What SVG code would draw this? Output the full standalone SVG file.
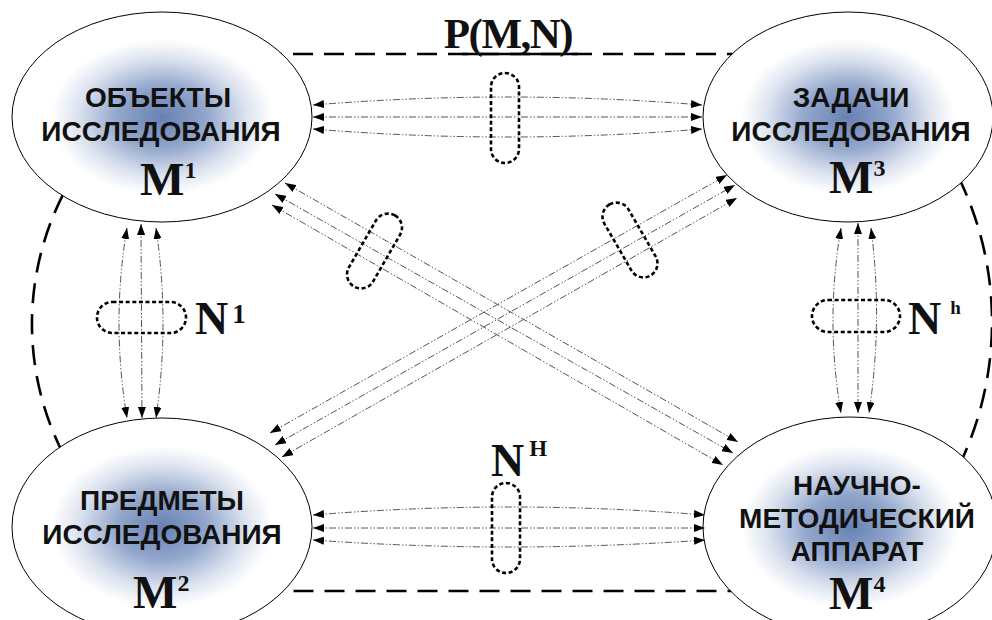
<svg xmlns="http://www.w3.org/2000/svg" width="992" height="620" viewBox="0 0 992 620">
  <defs>
    <radialGradient id="glow" cx="0.5" cy="0.5" r="0.5" fx="0.5" fy="0.5">
      <stop offset="0" stop-color="#6781b2"/>
      <stop offset="0.3" stop-color="#93a7cc"/>
      <stop offset="0.56" stop-color="#dce3ef"/>
      <stop offset="0.74" stop-color="#ffffff"/>
    </radialGradient>
    <marker id="ah" viewBox="0 0 11 8" refX="11" refY="4" markerWidth="11" markerHeight="8" markerUnits="userSpaceOnUse" orient="auto-start-reverse">
      <path d="M0,0 L11,4 L0,8 Z" fill="#000"/>
    </marker>
  </defs>
  <style>
    .frame { fill: none; stroke: #000; stroke-width: 2.6; stroke-dasharray: 20 11; }
    .node ellipse { fill: url(#glow); stroke: #000; stroke-width: 1; }
    .lbl { font-family: "Liberation Sans", Arial, sans-serif; font-weight: bold; font-size: 28px; text-anchor: middle; fill: #111; }
    .m { font-family: "Liberation Serif", "Times New Roman", serif; font-weight: bold; fill: #111; }
    .big { font-size: 47px; }
    .sup { font-size: 24px; }
    .link { fill: none; stroke: #555; stroke-width: 1; stroke-dasharray: 7 2 1.5 2 1.5 2; marker-start: url(#ah); marker-end: url(#ah); }
    .cap { fill: none; stroke: #000; stroke-width: 2.6; stroke-dasharray: 4 2.6; }
  </style>

  <!-- outer dashed boundary of the system P(M,N) -->
  <path class="frame" d="M200,54 H790 L923,120 A330,330 0 0 1 926,520 L790,591 H200 L110,520 A285,285 0 0 1 118,120 Z"/>
  <line x1="462" y1="54" x2="578" y2="54" stroke="#000" stroke-width="2.6"/>
  <text class="m" x="508" y="48" font-size="43" text-anchor="middle" letter-spacing="-1.5">P(M,N)</text>

  <!-- nodes -->
  <g id="m1" class="node">
    <ellipse cx="162" cy="117" rx="150" ry="105"/>
    <text class="lbl" x="158" y="107">ОБЪЕКТЫ</text>
    <text class="lbl" x="161" y="141">ИССЛЕДОВАНИЯ</text>
    <text class="m big" x="140" y="195">M<tspan class="sup" dy="-17">1</tspan></text>
  </g>
  <g id="m3" class="node">
    <ellipse cx="848" cy="117" rx="145" ry="105"/>
    <text class="lbl" x="851" y="107">ЗАДАЧИ</text>
    <text class="lbl" x="851" y="141">ИССЛЕДОВАНИЯ</text>
    <text class="m big" x="829" y="193">M<tspan class="sup" dy="-17">3</tspan></text>
  </g>
  <g id="m2" class="node">
    <ellipse cx="162" cy="527" rx="150" ry="109"/>
    <text class="lbl" x="162" y="510">ПРЕДМЕТЫ</text>
    <text class="lbl" x="162" y="544">ИССЛЕДОВАНИЯ</text>
    <text class="m big" x="133" y="608">M<tspan class="sup" dy="-17">2</tspan></text>
  </g>
  <g id="m4" class="node">
    <ellipse cx="850" cy="527" rx="147" ry="110"/>
    <text class="lbl" x="857" y="495">НАУЧНО-</text>
    <text class="lbl" x="857" y="528">МЕТОДИЧЕСКИЙ</text>
    <text class="lbl" x="857" y="561">АППАРАТ</text>
    <text class="m big" x="829" y="609">M<tspan class="sup" dy="-17">4</tspan></text>
  </g>

  <!-- connectors -->
  <g id="links">
    <!-- M1 - M3 -->
    <path class="link" d="M313,105 Q507,89 702,105"/>
    <path class="link" d="M313,117 L702,117"/>
    <path class="link" d="M313,129 Q507,145 702,129"/>
    <!-- M2 - M4 -->
    <path class="link" d="M313,515 Q509,499 705,515"/>
    <path class="link" d="M313,528 L705,528"/>
    <path class="link" d="M313,540 Q509,554 705,540"/>
    <!-- M1 - M2 -->
    <path class="link" d="M127,228 Q111,322 127,418"/>
    <path class="link" d="M141,224 L142,418"/>
    <path class="link" d="M156,228 Q170,322 156,418"/>
    <!-- M3 - M4 -->
    <path class="link" d="M841,228 Q825,320 841,413"/>
    <path class="link" d="M858,223 L858,413"/>
    <path class="link" d="M871,228 Q883,320 869,413"/>
    <!-- M1 - M4 -->
    <path class="link" d="M285,183 L738,442"/>
    <path class="link" d="M275,194 L733,453"/>
    <path class="link" d="M272,205 L723,465"/>
    <!-- M2 - M3 -->
    <path class="link" d="M270,433 L727,175"/>
    <path class="link" d="M275,445 L735,185"/>
    <path class="link" d="M282,457 L737,198"/>
  </g>

  <!-- relation groups -->
  <g id="relations">
    <rect class="cap" x="491" y="73" width="28" height="90" rx="14"/>
    <rect class="cap" x="492" y="483" width="28" height="90" rx="14"/>
    <rect class="cap" x="97" y="302" width="89" height="31" rx="15.5"/>
    <rect class="cap" x="812" y="300" width="88" height="32" rx="16"/>
    <rect class="cap" x="-14" y="-41" width="28" height="82" rx="14" transform="translate(374.5,251) rotate(30)"/>
    <rect class="cap" x="-14" y="-41" width="28" height="82" rx="14" transform="translate(630,240) rotate(-30)"/>
  </g>

  <!-- relation labels -->
  <text class="m" x="195" y="334" font-size="46">N<tspan font-size="27" dx="4" dy="-11">1</tspan></text>
  <text class="m" x="908" y="334" font-size="46">N<tspan font-size="19" dx="9" dy="-20">h</tspan></text>
  <text class="m" x="491" y="476" font-size="46">N<tspan font-size="23" dx="5" dy="-20">H</tspan></text>
</svg>
